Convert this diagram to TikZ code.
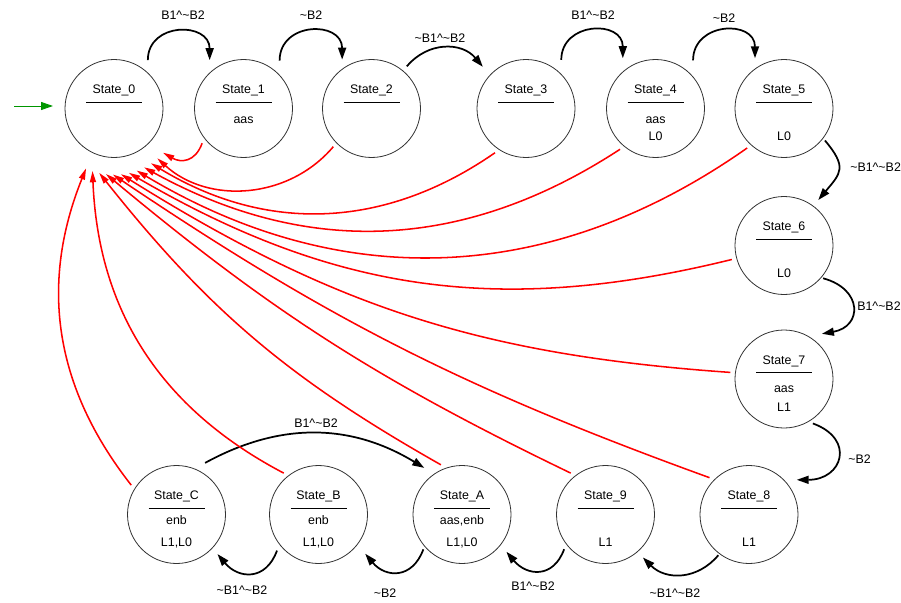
\documentclass[tikz,border=0pt]{standalone}
\usepackage{fontspec}
\setmainfont{Liberation Sans}
\usetikzlibrary{arrows.meta,calc}
\definecolor{initgreen}{RGB}{0,150,0}

\begin{document}
\begin{tikzpicture}[x=0.75pt, y=0.75pt,
  sbox/.style={circle, draw=black!80, line width=0.6pt, minimum size=73.5pt, inner sep=0pt},
  nlbl/.style={font=\fontsize{9.3pt}{11pt}\selectfont, anchor=base, inner sep=0pt},
  lbl/.style={font=\fontsize{9.3pt}{11pt}\selectfont, inner sep=0pt},
  uline/.style={line width=0.75pt},
  arr/.style={-{Triangle[length=9pt,width=6pt]}, line width=1.3pt},
  rarr/.style={-{Triangle[length=8.5pt,width=4.5pt]}, draw=red, line width=1.15pt},
  garr/.style={-{Triangle[length=9pt,width=6pt]}, draw=initgreen, line width=0.75pt}
]
  \useasboundingbox (0,0) rectangle (901,-603);

  % States
  \foreach \n/\x/\y/\d/\a/\b in {
      0/114/-108.5/15/{}/{},
      1/243.5/-108.5/15/aas/{},
      2/371.5/-108.5/15/{}/{},
      3/526/-108.5/15/{}/{},
      4/655.5/-108.5/15/aas/L0,
      5/784/-108.5/15/{}/L0,
      6/784/-245.5/15/{}/L0,
      7/784/-379/13/aas/L1,
      8/749/-514.5/9.5/{}/L1,
      9/605.5/-514.5/9.5/{}/L1,
      A/462/-514.5/9.5/{aas,enb}/{L1,L0},
      B/318.5/-514.5/9.5/enb/{L1,L0},
      C/176.5/-514.5/9.5/enb/{L1,L0}} {
    \node[sbox] (s\n) at (\x,\y) {};
    \node[nlbl] (s\n-nm) at ($(s\n)+(0,15)$) {State\_\n};
    \draw[uline] ($(s\n)+(-28,6.5)$) -- ($(s\n)+(28,6.5)$);
    \node[nlbl] (s\n-o1) at ($(s\n)+(0,-\d)$) {\a};
    \node[nlbl] (s\n-o2) at ($(s\n)+(0,-32)$) {\b};
  }

  % Initial arrow
  \coordinate (init) at (14,-106);
  \draw[garr] (init) -- ($(s0)+(-61,2.5)$);

  % Transitions
  \draw[arr] ($(s0)+(55:59)$) to[out=90,in=90,looseness=1.6] ($(s1)+(125:59)$);
  \draw[arr] ($(s1)+(53:60)$) to[out=90,in=90,looseness=1.6] ($(s2)+(121:57)$);
  \draw[arr] ($(s2)+(50:55)$) to[out=50,in=130,looseness=1.1] ($(s3)+(136:60)$);
  \draw[arr] ($(s3)+(54:60)$) to[out=90,in=90,looseness=1.6] ($(s4)+(123:60)$);
  \draw[arr] ($(s4)+(52:61)$) to[out=90,in=90,looseness=1.6] ($(s5)+(120:58)$);
  \draw[arr] ($(s5)+(-38:52)$) to[out=-50,in=50,looseness=1.5] ($(s6)+(53:57)$);
  \draw[arr] ($(s6)+(-40:51)$) to[out=-15,in=10,looseness=1.9] ($(s7)+(50:59)$);
  \draw[arr] ($(s7)+(-57:53)$) to[out=-20,in=0,looseness=2] ($(s8)+(36:59)$);
  \draw[arr] ($(s8)+(-127:51)$) to[out=-130,in=-45,looseness=1.1] ($(s9)+(-49:57)$);
  \draw[arr] ($(s9)+(-140:54)$) to[out=-110,in=-50,looseness=1.4] ($(sA)+(-40:58)$);
  \draw[arr] ($(sA)+(-138:52)$) to[out=-110,in=-50,looseness=1.4] ($(sB)+(-40:61)$);
  \draw[arr] ($(sB)+(-139:55)$) to[out=-110,in=-50,looseness=1.4] ($(sC)+(-44:57)$);
  \draw[arr] ($(sC)+(61:59)$) to[bend left=30] ($(sA)+(129:60)$);

  % Transition labels
  \node[lbl] (l01) at (183,-15) {B1\textasciicircum\textasciitilde B2};
  \node[lbl] (l12) at (311,-15) {\textasciitilde B2};
  \node[lbl] (l23) at (440,-38) {\textasciitilde B1\textasciicircum\textasciitilde B2};
  \node[lbl] (l34) at (593,-15) {B1\textasciicircum\textasciitilde B2};
  \node[lbl] (l45) at (724,-18) {\textasciitilde B2};
  \node[lbl, anchor=west] (l56) at (850,-167) {\textasciitilde B1\textasciicircum\textasciitilde B2};
  \node[lbl, anchor=west] (l67) at (857,-306) {B1\textasciicircum\textasciitilde B2};
  \node[lbl, anchor=west] (l78) at (848,-459) {\textasciitilde B2};
  \node[lbl] (l89) at (675,-593) {\textasciitilde B1\textasciicircum\textasciitilde B2};
  \node[lbl] (l9A) at (533,-586) {B1\textasciicircum\textasciitilde B2};
  \node[lbl] (lAB) at (385,-593) {\textasciitilde B2};
  \node[lbl] (lBC) at (242,-590) {\textasciitilde B1\textasciicircum\textasciitilde B2};
  \node[lbl] (lCA) at (316,-423) {B1\textasciicircum\textasciitilde B2};

  % Return to State_0
  \coordinate (t1) at ($(s0)+(-42:66)$);
  \draw[rarr] ($(s1)+(-140:54)$) to[out=-110,in=-30,looseness=1.3] (t1);
  \foreach \s/\a/\t/\b in {2/-135/-49/46, 3/-125/-56/33, 4/-131/-63/31,
      5/-133/-70/33, 6/-165/-77/22, 7/173/-84/14, 8/137/-91/7,
      9/130/-97/7, A/113/-103/11, B/130/-109/30, C/147/-115/30} {
    \coordinate (t\s) at ($(s0)+(\t:66)$);
    \draw[rarr] ($(s\s)+(\a:54)$) to[bend left=\b] (t\s);
  }
\end{tikzpicture}
\end{document}
